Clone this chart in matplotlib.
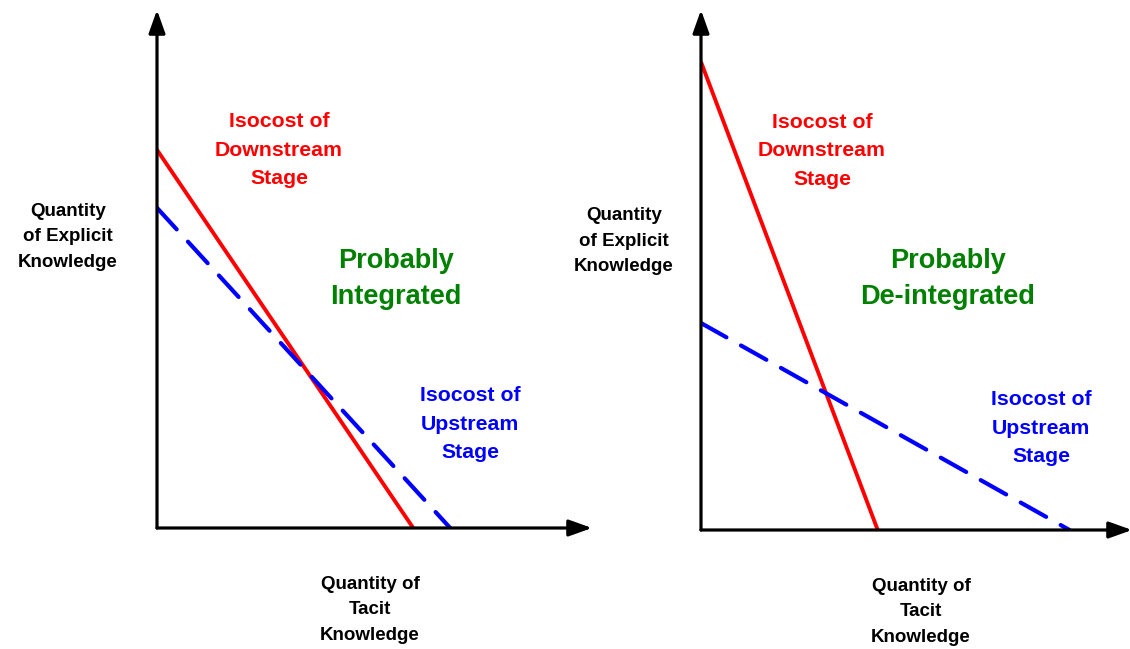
import matplotlib
matplotlib.use("Agg")
import matplotlib.pyplot as plt

plt.rcParams['font.family'] = ['Liberation Sans', 'DejaVu Sans']
plt.rcParams['font.weight'] = 'bold'

# isocost lines as (y-intercept, x-intercept), axes run 0..10
left_red = (7.30, 5.89)
left_blue = (6.18, 6.74)
right_red = (9.00, 4.10)
right_blue = (3.98, 8.55)

W, H = 1130, 649
fig = plt.figure(figsize=(W / 100, H / 100), dpi=100)


def panel(x0, x1, y_bottom, y_top, red, blue):
    ax = fig.add_axes([x0 / W, 1 - y_bottom / H, (x1 - x0) / W, (y_bottom - y_top) / H])
    ax.set_xlim(0, 10)
    ax.set_ylim(0, 10)
    ax.axis('off')
    # axes with arrow heads
    ax.annotate('', xy=(0, 1), xytext=(0, 0), xycoords='axes fraction',
                arrowprops=dict(arrowstyle='-|>,head_length=1.4,head_width=0.5',
                                lw=2.3, color='black', shrinkA=0, shrinkB=0))
    ax.annotate('', xy=(1, 0), xytext=(0, 0), xycoords='axes fraction',
                arrowprops=dict(arrowstyle='-|>,head_length=1.4,head_width=0.5',
                                lw=2.3, color='black', shrinkA=0, shrinkB=0))
    ax.plot([0, red[1]], [red[0], 0], color='#ff0000', lw=2.8, solid_capstyle='butt')
    ax.plot([0, blue[1]], [blue[0], 0], color='#0000ff', lw=3.0,
            dashes=(7, 4), dash_capstyle='round')
    return ax


panel(157, 592, 528, 10, left_red, left_blue)
panel(701, 1132, 530, 10, right_red, right_blue)


def txt(x, y, s, color='black', size=13.5, ls=1.62):
    fig.text(x / W, 1 - y / H, s, ha='center', va='center', color=color,
             fontsize=size, fontweight='bold', linespacing=ls)


txt(279, 150, 'Isocost of\nDownstream\nStage', '#ff0000', 15.3)
txt(68, 237, 'Quantity\nof Explicit\nKnowledge')
txt(396, 279, 'Probably\nIntegrated', '#008000', 19.5, 1.45)
txt(470, 424, 'Isocost of\nUpstream\nStage', '#0000ff', 15.3)
txt(370, 610, 'Quantity of\nTacit\nKnowledge')

txt(822, 151, 'Isocost of\nDownstream\nStage', '#ff0000', 15.3)
txt(624, 241, 'Quantity\nof Explicit\nKnowledge')
txt(948, 279, 'Probably\nDe-integrated', '#008000', 19.5, 1.45)
txt(1041, 428, 'Isocost of\nUpstream\nStage', '#0000ff', 15.3)
txt(921, 612, 'Quantity of\nTacit\nKnowledge')

fig.savefig('out.png', dpi=100)
